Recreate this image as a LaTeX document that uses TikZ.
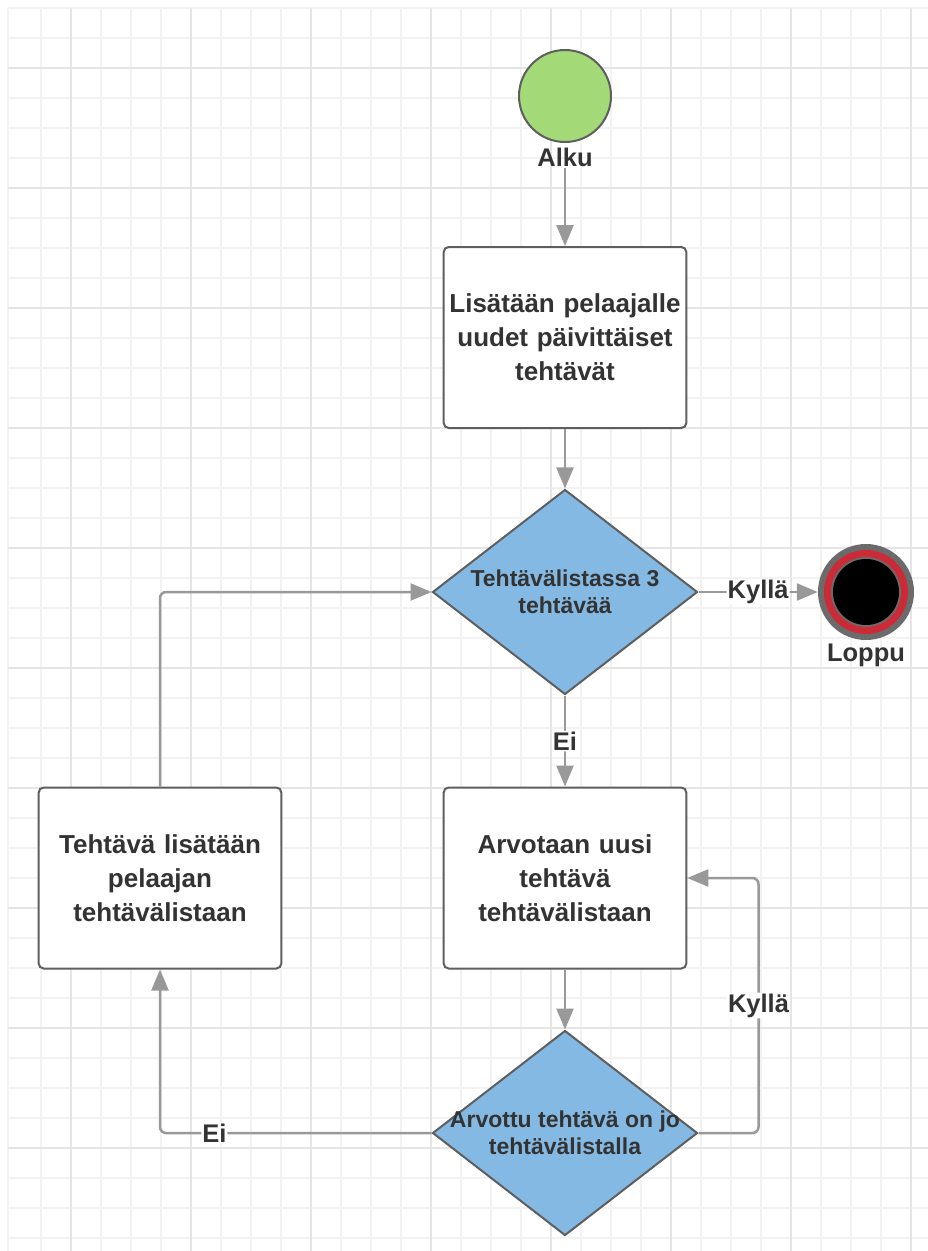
\documentclass[tikz,border=0pt]{standalone}
\usepackage{fontspec}
\setmainfont{Liberation Sans}
\usetikzlibrary{shapes.geometric,arrows.meta}

\definecolor{linegray}{HTML}{999999}
\definecolor{bordergray}{HTML}{5E5E5E}
\definecolor{textgray}{HTML}{333333}
\definecolor{startgreen}{HTML}{A3D977}
\definecolor{decisionblue}{HTML}{84B9E3}
\definecolor{endred}{HTML}{CC2A36}
\definecolor{endgray}{HTML}{6B6B6B}

\begin{document}
\begin{tikzpicture}[x=1pt, y=-1pt,
  box/.style={rectangle, rounded corners=5pt, draw=bordergray, line width=2pt, fill=white,
    minimum width=240pt, minimum height=181pt, text width=236pt, align=center,
    text=textgray, font=\fontsize{26}{34}\selectfont\bfseries},
  decision/.style={diamond, draw=bordergray, line width=2pt, fill=decisionblue,
    minimum width=265pt, minimum height=205pt, inner sep=0pt},
  dtext/.style={align=center, text=textgray, font=\fontsize{23}{27}\selectfont\bfseries, inner sep=0pt},
  tag/.style={text=textgray, font=\fontsize{25.5}{30}\selectfont\bfseries, inner sep=1pt},
  onarrow/.style={tag, fill=white},
  flow/.style={draw=linegray, line width=2.5pt, -{Triangle[length=21pt,width=17pt]}, rounded corners=6pt}]

\useasboundingbox (0,0) rectangle (928,1251);

% grid paper
\foreach \k in {0,...,41}
  \draw[black!5, line width=1.5pt] (8,8+30*\k) -- (928,8+30*\k);
\draw[black!5, line width=1.5pt] (8,8) -- (8,1251);
\foreach \k in {1,...,30}
  \draw[black!5, line width=1.5pt] (11+30*\k,8) -- (11+30*\k,1251);
\foreach \k in {2,6,...,38}
  \draw[black!10, line width=1.5pt] (8,8+30*\k) -- (928,8+30*\k);
\foreach \k in {2,6,...,30}
  \draw[black!10, line width=1.5pt] (11+30*\k,8) -- (11+30*\k,1251);

% start
\node[circle, draw=bordergray, line width=2pt, fill=startgreen, minimum size=92pt] (alku) at (565,96) {};
\node[tag] (alkuteksti) at (565,157) {Alku};

\node[box] (lisaa) at (565,337.5) {Lisätään pelaajalle\\uudet päivittäiset\\tehtävät};

\node[decision] (tarkista) at (565,592) {};
\node[dtext] (tarkistateksti) at (tarkista.center) {Tehtävälistassa 3\\tehtävää};

% end
\node[circle, fill=endgray, minimum size=96pt, inner sep=0pt] (loppu) at (866,592) {};
\fill[endred] (loppu.center) circle (42);
\fill[endgray] (loppu.center) circle (35);
\fill[black] (loppu.center) circle (33);
\node[tag] (lopputeksti) at (866,655) {Loppu};

\node[box] (arvo) at (565,878) {Arvotaan uusi\\tehtävä\\tehtävälistaan};

\node[decision] (onjo) at (565,1133) {};
\node[dtext] (onjoteksti) at (onjo.center) {Arvottu tehtävä on jo\\tehtävälistalla};

\node[box] (lisays) at (160,878) {Tehtävä lisätään\\pelaajan\\tehtävälistaan};

% flow
\draw[flow] (alkuteksti) -- (lisaa);
\draw[flow] (lisaa) -- (tarkista);
\draw[flow] (tarkista) -- node[onarrow] (kylla1) {Kyllä} (loppu);
\draw[flow] (tarkista) -- node[onarrow] (ei1) {Ei} (arvo);
\draw[flow] (arvo) -- (onjo);
\draw[flow] (onjo.east) -- ++(60,0) |- node[onarrow, pos=0.25] (kylla2) {Kyllä} (arvo.east);
\draw[flow] (onjo.west) -| node[onarrow, pos=0.4] (ei2) {Ei} (lisays.south);
\draw[flow] (lisays.north) |- (tarkista.west);

\end{tikzpicture}
\end{document}
